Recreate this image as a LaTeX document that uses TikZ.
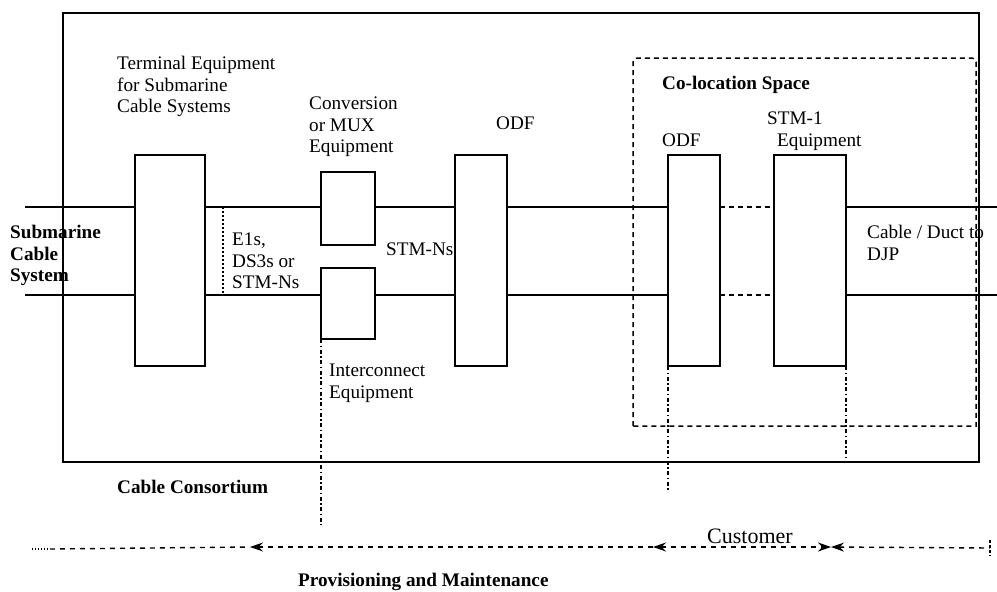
\documentclass[tikz,border=0pt]{standalone}
\usepackage{fontspec}
\setmainfont{Liberation Serif}
\usetikzlibrary{arrows.meta,calc}
\begin{document}
\begin{tikzpicture}[x=1pt,y=-1pt,
  eqbox/.style={draw,line width=1.4pt,inner sep=0pt,outer sep=0pt},
  wire/.style={line width=1.4pt},
  dwire/.style={line width=1.5pt,dash pattern=on 5pt off 4pt},
  dotv/.style={line width=1.6pt,dash pattern=on 1.5pt off 2.5pt},
  dashdotv/.style={line width=1.5pt,dash pattern=on 4pt off 2.5pt on 1.5pt off 2.5pt},
  lbl/.style={anchor=north west,inner sep=0pt,align=left,font=\fontsize{19.2}{21.5}\selectfont},
  blbl/.style={lbl,font=\fontsize{19.2}{21.5}\selectfont\bfseries},
  bline/.style={line width=1.4pt,dash pattern=on 5pt off 5pt},
  ah/.tip={Stealth[length=13pt,width=9pt]},
  tip/.style={-ah}]
\useasboundingbox (0,0) rectangle (997,592);
% outer frame
\coordinate (fNW) at (63,13);
\coordinate (fSE) at (979,462);
\draw[wire] (fNW) rectangle (fSE);
% co-location space
\coordinate (cNW) at (633,58);
\coordinate (cSE) at (976,426);
\draw[dwire,rounded corners=4pt] (cNW |- cSE) -- (cNW) -- (cNW -| cSE) [sharp corners]-- (cSE) -- cycle;
% equipment boxes
\node[eqbox,minimum width=70pt,minimum height=211pt] (term) at (170,260.5) {};
\node[eqbox,minimum width=54pt,minimum height=73pt] (conv1) at (348,208.5) {};
\node[eqbox,minimum width=54pt,minimum height=71pt] (conv2) at (348,303.5) {};
\node[eqbox,minimum width=52pt,minimum height=211pt] (odf1) at (481,260.5) {};
\node[eqbox,minimum width=52pt,minimum height=211pt] (odf2) at (694,260.5) {};
\node[eqbox,minimum width=72pt,minimum height=211pt] (stm) at (810,260.5) {};
% line ends
\coordinate (inU) at (25,207);
\coordinate (inL) at (25,295);
\coordinate (outU) at (997,207);
\coordinate (outL) at (997,295);
% upper line
\draw[wire] (inU) -- (inU -| term.west);
\draw[wire] (term.east |- inU) -- (inU -| conv1.west);
\draw[wire] (conv1.east |- inU) -- (inU -| odf1.west);
\draw[wire] (odf1.east |- inU) -- (inU -| odf2.west);
\draw[dwire] (odf2.east |- inU) -- (inU -| stm.west);
\draw[wire] (stm.east |- inU) -- (outU);
% lower line
\draw[wire] (inL) -- (inL -| term.west);
\draw[wire] (term.east |- inL) -- (inL -| conv2.west);
\draw[wire] (conv2.east |- inL) -- (inL -| odf1.west);
\draw[wire] (odf1.east |- inL) -- (inL -| odf2.west);
\draw[dwire] (odf2.east |- inL) -- (inL -| stm.west);
\draw[wire] (stm.east |- inL) -- (outL);
% dotted verticals
\coordinate (e1u) at (223,207);
\coordinate (e1l) at (223,295);
\draw[dotv] (e1u) -- (e1l);
\coordinate (icEnd) at (321,525);
\draw[dashdotv] (conv2.south west) -- (icEnd);
\coordinate (odEnd) at (668,492);
\draw[dashdotv] (odf2.south west) -- (odEnd);
\draw[dashdotv] (stm.south east) -- (stm.south east |- fSE);
% labels
\node[lbl] (tTerm) at (117,56) {Terminal Equipment\\for Submarine\\Cable Systems};
\node[lbl] (tConv) at (309,97) {Conversion\\or MUX\\Equipment};
\node[lbl] (tOdf1) at (496,117) {ODF};
\node[lbl] (tE1) at (232,233) {E1s,\\DS3s or\\STM-Ns};
\node[lbl] (tStmN) at (386,243) {STM-Ns};
\node[blbl] (tSub) at (10,225) {Submarine\\Cable\\System};
\node[blbl] (tColo) at (662,76) {Co-location Space};
\node[lbl] (tOdf2) at (662,134) {ODF};
\node[lbl] (tStm1) at (767,112) {STM-1\\\hspace*{10pt}Equipment};
\node[lbl] (tDuct) at (867,225) {Cable / Duct to\\DJP};
\node[lbl] (tInt) at (329,364) {Interconnect\\Equipment};
\node[blbl] (tCons) at (117,480) {Cable Consortium};
\node[blbl] (tProv) at (298,573) {Provisioning and Maintenance};
% bottom responsibility line
\coordinate (b0) at (32,549);
\coordinate (b1) at (50,549);
\coordinate (bA) at (250,547);
\coordinate (bB) at (653,547);
\coordinate (bC) at (831,547);
\coordinate (bD) at (990,548);
\draw[line width=1.2pt,dash pattern=on 1pt off 2pt] (b0) -- (b1);
\draw[bline] (b1) -- (bA);
\draw[bline,tip] (bB) -- (bA);
\draw[bline,ah-ah] (bB) -- (bC);
\draw[bline,ah-] (bC) -- (bD);
\draw[line width=1.3pt,dash pattern=on 3pt off 2pt] ($(bD)+(0,-8)$) -- ($(bD)+(0,8)$);
\node[lbl,fill=white,inner sep=1pt,font=\fontsize{22}{24}\selectfont] (tCust) at (706,528) {Customer};
\end{tikzpicture}
\end{document}
